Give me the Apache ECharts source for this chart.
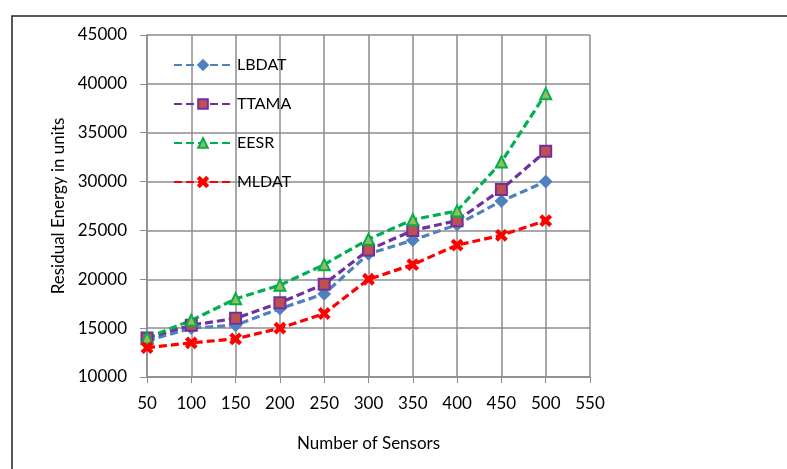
<!DOCTYPE html>
<html>
<head>
<meta charset="utf-8">
<script src="https://cdn.jsdelivr.net/npm/echarts@6/dist/echarts.min.js"></script>
<style>
  html, body { margin: 0; padding: 0; background: #fff; }
  #chart { width: 787px; height: 469px; }
</style>
</head>
<body>
<div id="chart"></div>
<script>
// Number of sensors on the x axis
const sensors = [50, 100, 150, 200, 250, 300, 350, 400, 450, 500];

// Residual energy per protocol
const lbdat = [13700, 15000, 15300, 17000, 18500, 22600, 24000, 25600, 28000, 30000];
const ttama = [14000, 15300, 16000, 17600, 19500, 23000, 25000, 26000, 29200, 33100];
const eesr  = [14000, 15800, 18000, 19400, 21500, 24100, 26100, 27000, 32000, 39000];
const mldat = [13000, 13500, 13900, 15000, 16500, 20000, 21500, 23500, 24500, 26000];

const pairs = ys => sensors.map((x, i) => [x, ys[i]]);

const crossPath = 'path://M1.6,0 L5,3.4 L8.4,0 L10,1.6 L6.6,5 L10,8.4 L8.4,10 L5,6.6 L1.6,10 L0,8.4 L3.4,5 L0,1.6 Z';
const font = 'Lato, "Open Sans", sans-serif';

function lineSeries(name, data, lineColor, symbol, fill, border, size) {
  return {
    name: name,
    type: 'line',
    data: pairs(data),
    symbol: symbol,
    symbolSize: size,
    lineStyle: { color: lineColor, width: 3.2, type: [8, 4] },
    itemStyle: { color: fill, borderColor: border, borderWidth: 2 },
    emphasis: { disabled: true },
    z: 3
  };
}

const chart = echarts.init(document.getElementById('chart'));
chart.setOption({
  animation: false,
  backgroundColor: '#fff',
  graphic: [{
    type: 'rect',
    shape: { x: 12, y: 16, width: 800, height: 470 },
    style: { fill: 'none', stroke: '#222', lineWidth: 1.5 },
    silent: true
  }],
  grid: { left: 147, right: 197, top: 35, bottom: 92 },
  legend: {
    orient: 'vertical',
    left: 168,
    top: 52,
    itemGap: 23,
    itemWidth: 58,
    itemHeight: 12,
    textStyle: { fontFamily: font, fontSize: 16, color: '#000' },
    data: ['LBDAT', 'TTAMA', 'EESR', 'MLDAT']
  },
  xAxis: {
    type: 'value',
    min: 50, max: 550, interval: 50,
    name: 'Number of Sensors',
    nameLocation: 'middle',
    nameGap: 58,
    nameTextStyle: { fontFamily: font, fontSize: 17, color: '#000' },
    axisLine: { show: true, lineStyle: { color: '#8c8c8c', width: 1.5 } },
    axisTick: { show: true, length: 6, lineStyle: { color: '#8c8c8c' } },
    axisLabel: { fontFamily: font, fontSize: 17, color: '#000', margin: 18 },
    splitLine: { show: true, lineStyle: { color: '#8c8c8c', width: 1.5 } }
  },
  yAxis: {
    type: 'value',
    min: 10000, max: 45000, interval: 5000,
    name: 'Residual Energy in units',
    nameLocation: 'middle',
    nameGap: 80,
    nameTextStyle: { fontFamily: font, fontSize: 17, color: '#000' },
    axisLine: { show: true, lineStyle: { color: '#8c8c8c', width: 1.5 } },
    axisTick: { show: true, length: 7, lineStyle: { color: '#8c8c8c' } },
    axisLabel: { fontFamily: font, fontSize: 17, color: '#000', margin: 20, formatter: v => String(v) },
    splitLine: { show: true, lineStyle: { color: '#8c8c8c', width: 1.5 } }
  },
  series: [
    lineSeries('LBDAT', lbdat, '#4F81BD', 'diamond', '#4F81BD', '#4F81BD', 11),
    lineSeries('TTAMA', ttama, '#7030A0', 'rect', '#C0504D', '#7030A0', 11),
    lineSeries('EESR', eesr, '#00B050', 'triangle', '#9BBB59', '#00B050', 11),
    lineSeries('MLDAT', mldat, '#FF0000', crossPath, '#FF0000', '#FF0000', 10)
  ]
});
</script>
</body>
</html>
